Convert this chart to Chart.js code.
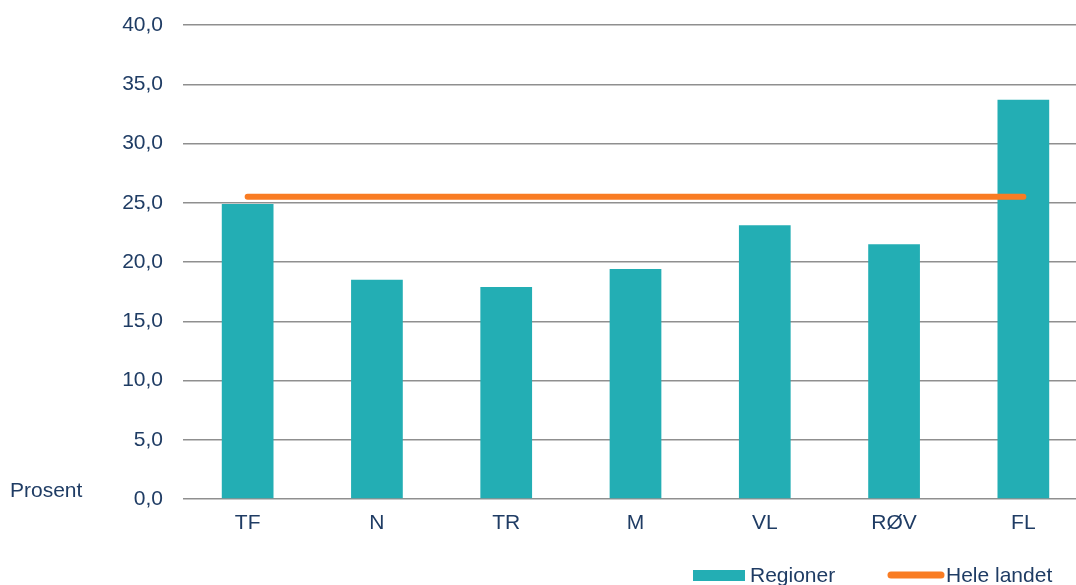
<!DOCTYPE html>
<html>
<head>
<meta charset="utf-8">
<script src="https://cdn.jsdelivr.net/npm/chart.js@4.4.1/dist/chart.umd.min.js"></script>
<style>
  html, body { margin: 0; padding: 0; background: #ffffff; overflow: hidden; }
  #wrap { width: 1076px; height: 585px; overflow: hidden; position: relative; }
  canvas { display: block; }
</style>
</head>
<body>
<div id="wrap"><canvas id="c" width="1088" height="585"></canvas></div>
<script>
const categories = ['TF', 'N', 'TR', 'M', 'VL', 'RØV', 'FL'];
const regionValues = [24.9, 18.5, 17.9, 19.4, 23.1, 21.5, 33.7];
const nationalValues = [25.5, 25.5, 25.5, 25.5, 25.5, 25.5, 25.5];
const yTicks = [0, 5, 10, 15, 20, 25, 30, 35, 40];
const seriesNames = ['Regioner', 'Hele landet'];
const axisLabel = 'Prosent';

const TEXT = '#1f3c64';
const TEAL = '#23aeb4';
const ORANGE = '#f97c23';
const FONT = '"Liberation Sans", Arial, sans-serif';

const extras = {
  id: 'extras',
  afterDraw(chart) {
    const ctx = chart.ctx;
    const area = chart.chartArea;
    ctx.save();
    ctx.fillStyle = TEXT;
    ctx.font = '21px ' + FONT;
    ctx.textAlign = 'left';
    ctx.textBaseline = 'alphabetic';
    ctx.fillText(axisLabel, 10, area.bottom - 2);

    const ly = 576;
    ctx.fillStyle = TEAL;
    ctx.fillRect(693, ly - 6, 52, 11);
    ctx.fillStyle = TEXT;
    ctx.textBaseline = 'middle';
    ctx.fillText(seriesNames[0], 750, ly);
    ctx.strokeStyle = ORANGE;
    ctx.lineWidth = 7;
    ctx.lineCap = 'round';
    ctx.beginPath();
    ctx.moveTo(891, ly - 1);
    ctx.lineTo(941, ly - 1);
    ctx.stroke();
    ctx.fillStyle = TEXT;
    ctx.fillText(seriesNames[1], 946, ly);
    ctx.restore();
  }
};

new Chart(document.getElementById('c'), {
  data: {
    labels: categories,
    datasets: [
      {
        type: 'line',
        label: seriesNames[1],
        data: nationalValues,
        borderColor: ORANGE,
        backgroundColor: ORANGE,
        borderWidth: 6,
        borderCapStyle: 'round',
        pointRadius: 0,
        pointHoverRadius: 0,
        order: 0
      },
      {
        type: 'bar',
        label: seriesNames[0],
        data: regionValues,
        backgroundColor: TEAL,
        borderWidth: 0,
        barPercentage: 0.4,
        categoryPercentage: 1.0,
        order: 1
      }
    ]
  },
  options: {
    responsive: false,
    devicePixelRatio: 1,
    animation: false,
    layout: { padding: { top: 25, left: 0, right: 0, bottom: 0 } },
    plugins: {
      legend: { display: false },
      tooltip: { enabled: false }
    },
    scales: {
      x: {
        grid: { display: false, drawTicks: false },
        border: { display: false },
        ticks: { color: TEXT, font: { family: FONT, size: 21 }, padding: 12, maxRotation: 0 },
        afterFit(scale) { scale.height = 86; scale.paddingLeft = 0; scale.paddingRight = 0; }
      },
      y: {
        min: 0,
        max: 40,
        afterBuildTicks(scale) { scale.ticks = yTicks.map(v => ({ value: v })); },
        grid: { color: '#8f8f8f', lineWidth: 1.5, drawTicks: false },
        border: { display: false },
        ticks: {
          color: TEXT,
          font: { family: FONT, size: 21 },
          padding: 20,
          callback: v => v.toFixed(1).replace('.', ',')
        },
        afterFit(scale) { scale.width = 183; scale.paddingTop = 0; scale.paddingBottom = 0; }
      }
    }
  },
  plugins: [extras]
});
</script>
</body>
</html>
